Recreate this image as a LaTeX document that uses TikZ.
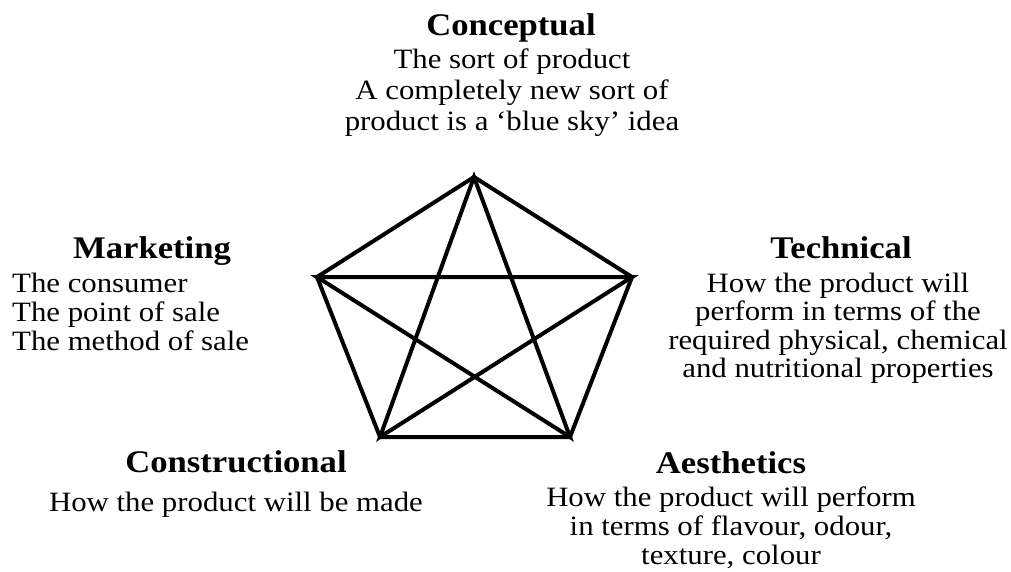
\documentclass[tikz,border=0pt]{standalone}
\usepackage{fontspec}
\setmainfont{Liberation Serif}[FakeStretch=1.1]
\usetikzlibrary{positioning}

\tikzset{
  head/.style={font=\fontsize{31.5}{33}\selectfont\bfseries, inner sep=0pt, anchor=base},
  body/.style={font=\fontsize{28}{#1}\selectfont, inner sep=0pt, align=center, anchor=north},
  edge/.style={line width=4pt, line join=miter}
}

\begin{document}
\begin{tikzpicture}[x=1pt, y=-1pt]
  \useasboundingbox (0,0) rectangle (1011,571);
  % corners of the pentagon
  \coordinate (top) at (474,177);
  \coordinate (right) at (632,277);
  \coordinate (botR) at (570,437);
  \coordinate (botL) at (380,437);
  \coordinate (left) at (317,277);
  \draw[edge] (top) -- (right) -- (botR) -- (botL) -- (left) -- cycle;
  \draw[edge] (top) -- (botR) -- (left) -- (right) -- (botL) -- cycle;
  % the five labels
  \node[head] (concept) at (511,35) {Conceptual};
  \node[body=31] (conceptTxt) at (512,48.7)
    {The sort of product\\A completely new sort of\\product is a `blue sky' idea};
  \node[head] (market) at (152,258) {Marketing};
  \node[body=29, align=left, anchor=north west] (marketTxt) at (12,272.7)
    {The consumer\\The point of sale\\The method of sale};
  \node[head] (tech) at (841,258) {Technical};
  \node[body=28.5] (techTxt) at (838,272.7)
    {How the product will\\perform in terms of the\\required physical, chemical\\and nutritional properties};
  \node[head] (constr) at (236,472) {Constructional};
  \node[body=29, below=19pt of constr] (constrTxt) {How the product will be made};
  \node[head] (aesth) at (731,473) {Aesthetics};
  \node[body=29, below=13pt of aesth] (aesthTxt)
    {How the product will perform\\in terms of flavour, odour,\\texture, colour};
\end{tikzpicture}
\end{document}
